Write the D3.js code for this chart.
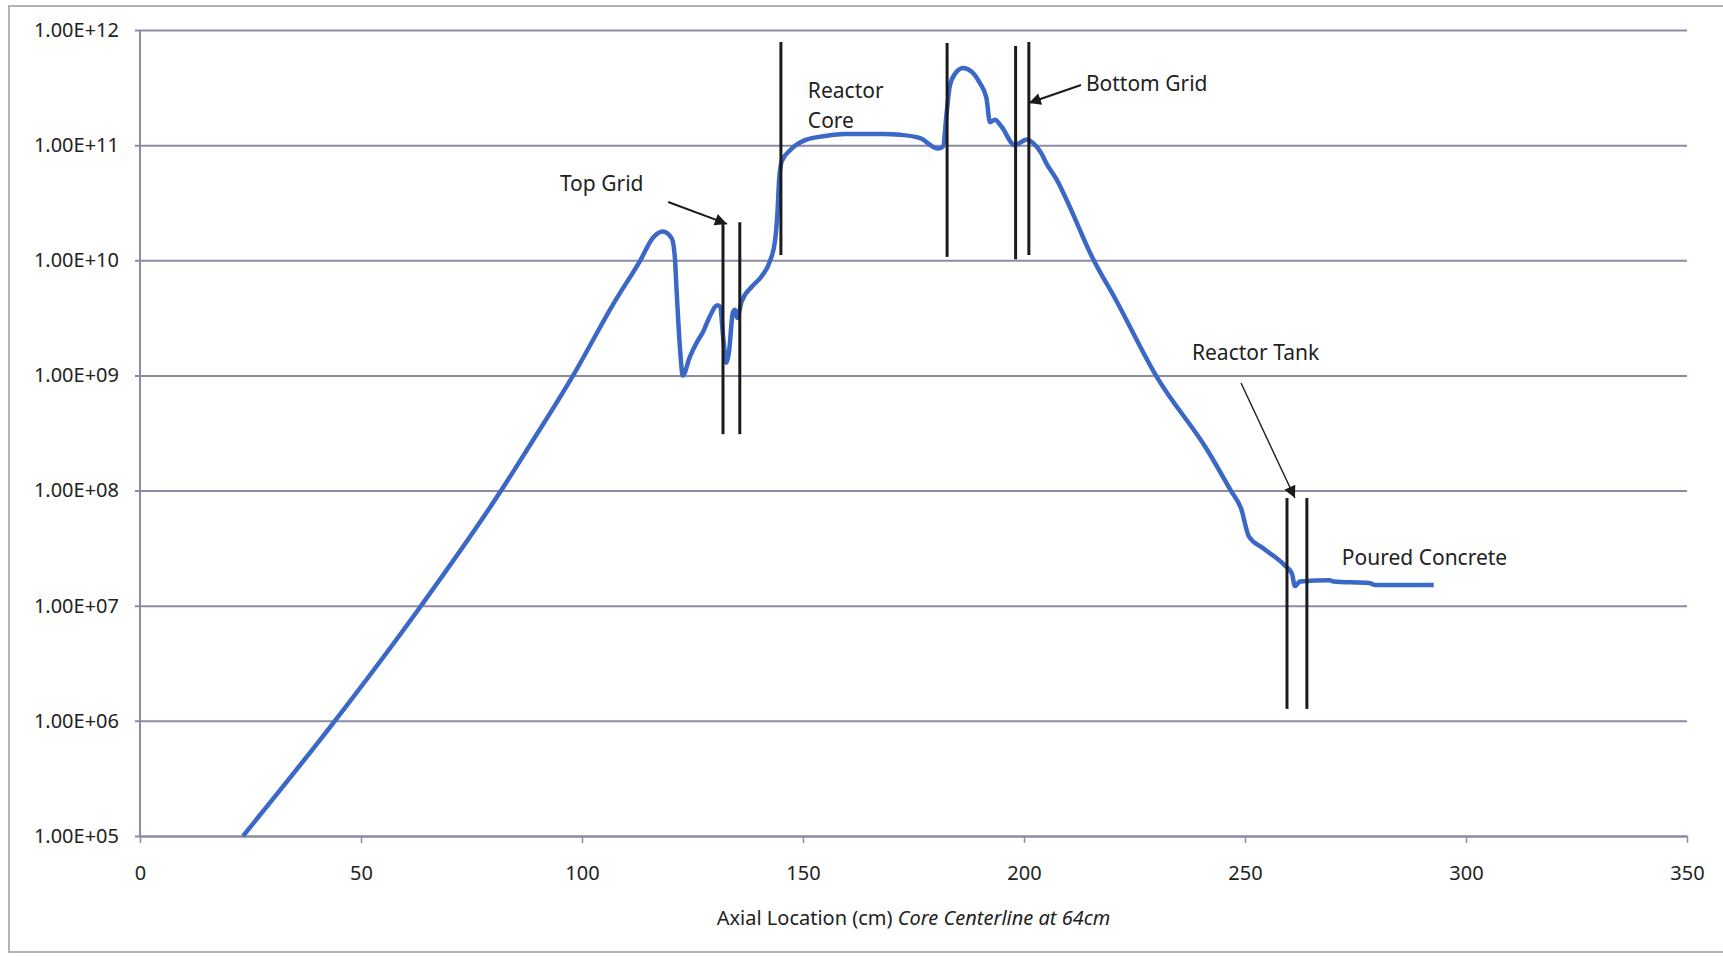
<!DOCTYPE html>
<html>
<head>
<meta charset="utf-8">
<script src="https://cdn.jsdelivr.net/npm/d3@7"></script>
<style>
  body { margin: 0; background: #fff; }
  text { font-family: "Noto Sans", "Open Sans", sans-serif; fill: #222; }
</style>
</head>
<body>
<script>
// page size
const width = 1723;
const height = 956;
// plot area
const plotLeft = 140, plotRight = 1687, plotTop = 30, plotBottom = 836;

// flux curve: axial location (cm) and flux
const axial = [23.3, 44.1, 63.6, 81.7, 87.5, 98.0, 107.4, 113.2, 116.1, 118.3, 120.3, 121.0, 121.4, 122.2,
    122.8, 124.4, 125.9, 127.4, 128.9, 130.6, 131.2, 132.0, 132.6, 133.3, 134.1, 134.6, 135.1, 136.1,
    138.4, 140.6, 142.5, 143.7, 144.2, 144.6, 145.2, 147.2, 150.6, 155.0, 159.3, 168.0, 172.0, 176.5,
    180.6, 181.7, 182.5, 183.2, 184.4, 186.2, 188.1, 190.0, 191.5, 192.3, 193.4, 194.9, 197.9, 199.1,
    200.6, 202.1, 203.9, 205.1, 207.4, 209.7, 215.4, 220.8, 230.0, 241.5, 246.8, 249.1, 250.9, 254.1, 259.0,
    260.6, 261.3, 262.4, 269.2, 270.0, 278.3, 279.4, 292.7];
const flux = [1.00e5, 1.00e6, 1.00e7, 1.00e8, 2.24e8, 1.00e9, 4.37e9, 1.00e10, 1.58e10, 1.78e10, 1.55e10, 1.07e10, 5.50e9, 1.66e9,
    1.00e9, 1.45e9, 1.91e9, 2.40e9, 3.24e9, 4.07e9, 3.98e9, 2.04e9, 1.29e9, 1.66e9, 3.47e9, 3.72e9, 3.16e9, 4.37e9,
    5.89e9, 7.24e9, 9.77e9, 1.51e10, 2.51e10, 5.01e10, 7.24e10, 9.12e10, 1.11e11, 1.20e11, 1.25e11, 1.25e11, 1.23e11, 1.15e11,
    9.33e10, 9.77e10, 1.91e11, 3.24e11, 4.17e11, 4.68e11, 4.37e11, 3.47e11, 2.57e11, 1.58e11, 1.66e11, 1.45e11, 1.00e11, 1.05e11,
    1.12e11, 1.04e11, 8.51e10, 6.92e10, 5.01e10, 3.31e10, 1.07e10, 4.52e9, 9.77e8, 2.24e8, 1.00e8, 7.01e7, 3.98e7, 3.16e7, 2.24e7,
    1.91e7, 1.48e7, 1.62e7, 1.66e7, 1.62e7, 1.57e7, 1.51e7, 1.51e7];

// axis ticks
const xTicks = [0, 50, 100, 150, 200, 250, 300, 350];
const yTicks = [1e5, 1e6, 1e7, 1e8, 1e9, 1e10, 1e11, 1e12];

// region boundary lines (cm, top flux, bottom flux)
const boundX = [131.9, 135.7, 145.0, 182.6, 198.1, 201.1, 259.5, 264.0];
const boundTop = [2.09e10, 2.14e10, 7.87e11, 7.71e11, 7.26e11, 7.87e11, 8.61e7, 8.61e7];
const boundBottom = [3.09e8, 3.09e8, 1.11e10, 1.07e10, 1.02e10, 1.11e10, 1.27e6, 1.27e6];

// labels
const labelText = ["Top Grid", "Reactor", "Core", "Bottom Grid", "Reactor Tank", "Poured Concrete"];
const labelX = [95.0, 151.1, 151.1, 214.0, 238.0, 271.9];
const labelY = [4.0e10, 2.57e11, 1.41e11, 2.95e11, 1.36e9, 2.26e7];

// arrows (from -> to)
const arrowX1 = [119.5, 212.9, 249.1];
const arrowY1 = [3.21e10, 3.33e11, 8.59e8];
const arrowX2 = [132.8, 201.1, 261.3];
const arrowY2 = [2.07e10, 2.32e11, 8.61e7];
const arrowW = [2, 2, 1.4];

const svg = d3.select("body").append("svg")
    .attr("width", width)
    .attr("height", height);

svg.append("rect")
    .attr("width", width)
    .attr("height", height)
    .attr("fill", "#fff");

// outer frame
svg.append("rect")
    .attr("x", 9)
    .attr("y", 6)
    .attr("width", width + 20)
    .attr("height", 946)
    .attr("fill", "none")
    .attr("stroke", "#9a9a9a")
    .attr("stroke-width", 1.5);

const x = d3.scaleLinear().domain([0, 350]).range([plotLeft, plotRight]);
const y = d3.scaleLog().domain([1e5, 1e12]).range([plotBottom, plotTop]);

const gridColor = "#8b8ba2";

// y gridlines + labels
const yAxis = svg.append("g")
    .attr("transform", `translate(${plotLeft - 5},0)`)
    .call(d3.axisLeft(y)
        .tickValues(yTicks)
        .tickSizeInner(-(plotRight - plotLeft + 5))
        .tickSizeOuter(0)
        .tickPadding(16)
        .tickFormat(d => "1.00E+" + String(Math.round(Math.log10(d))).padStart(2, "0")));
yAxis.select(".domain").remove();
yAxis.selectAll(".tick line").attr("stroke", gridColor).attr("stroke-width", 2);
yAxis.selectAll(".tick text").style("font-size", "20px").attr("fill", "#222");

// y axis line
svg.append("line")
    .attr("x1", plotLeft).attr("x2", plotLeft)
    .attr("y1", plotTop).attr("y2", plotBottom)
    .attr("stroke", gridColor)
    .attr("stroke-width", 2);

// x axis
const xAxis = svg.append("g")
    .attr("transform", `translate(0,${plotBottom})`)
    .call(d3.axisBottom(x)
        .tickValues(xTicks)
        .tickSizeInner(7)
        .tickSizeOuter(0)
        .tickPadding(23));
xAxis.select(".domain").attr("stroke", gridColor).attr("stroke-width", 2);
xAxis.selectAll(".tick line").attr("stroke", gridColor).attr("stroke-width", 1.5);
xAxis.selectAll(".tick text").style("font-size", "20px").attr("fill", "#222");

// x axis title
const title = svg.append("text")
    .attr("x", (plotLeft + plotRight) / 2)
    .attr("y", 925)
    .attr("text-anchor", "middle")
    .style("font-size", "20px");
title.append("tspan").text("Axial Location (cm) ");
title.append("tspan").style("font-style", "italic").text("Core Centerline at 64cm");

// flux curve
const line = d3.line()
    .x((d, i) => x(axial[i]))
    .y(d => y(d))
    .curve(d3.curveMonotoneX);

svg.append("path")
    .datum(flux)
    .attr("d", line)
    .attr("fill", "none")
    .attr("stroke", "#3b67c6")
    .attr("stroke-width", 4.5)
    .attr("stroke-linejoin", "round");

// boundary lines
svg.append("g")
    .selectAll("line")
    .data(boundX)
    .join("line")
    .attr("x1", d => x(d))
    .attr("x2", d => x(d))
    .attr("y1", (d, i) => y(boundTop[i]))
    .attr("y2", (d, i) => y(boundBottom[i]))
    .attr("stroke", "#1b1b1b")
    .attr("stroke-width", 3);

// arrow head
svg.append("defs").append("marker")
    .attr("id", "head")
    .attr("viewBox", "0 0 10 10")
    .attr("refX", 10)
    .attr("refY", 5)
    .attr("markerUnits", "userSpaceOnUse")
    .attr("markerWidth", 15)
    .attr("markerHeight", 12)
    .attr("orient", "auto")
    .append("path")
    .attr("d", "M0,0 L10,5 L0,10 Z")
    .attr("fill", "#1b1b1b");

svg.append("g")
    .selectAll("line")
    .data(arrowX1)
    .join("line")
    .attr("x1", d => x(d))
    .attr("y1", (d, i) => y(arrowY1[i]))
    .attr("x2", (d, i) => x(arrowX2[i]))
    .attr("y2", (d, i) => y(arrowY2[i]))
    .attr("stroke", "#1b1b1b")
    .attr("stroke-width", (d, i) => arrowW[i])
    .attr("marker-end", "url(#head)");

// region labels
svg.append("g")
    .selectAll("text")
    .data(labelText)
    .join("text")
    .attr("x", (d, i) => x(labelX[i]))
    .attr("y", (d, i) => y(labelY[i]))
    .style("font-size", "21px")
    .text(d => d);
</script>
</body>
</html>
